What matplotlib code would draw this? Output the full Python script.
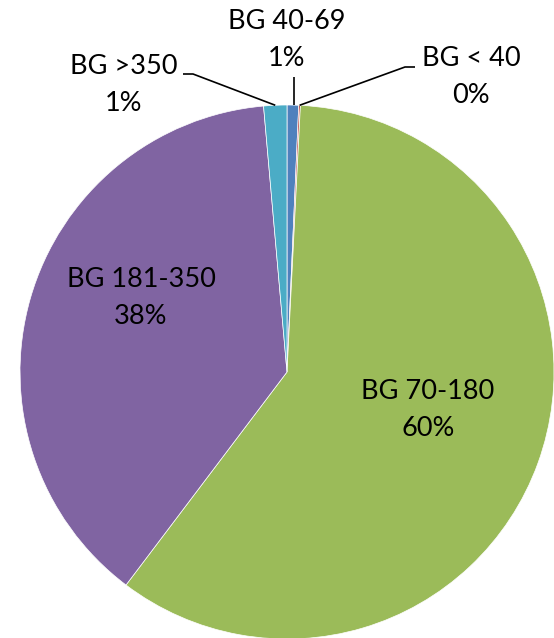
import numpy as np
import matplotlib
matplotlib.use('Agg')
import matplotlib.pyplot as plt

# --- データ ---
labels = ['BG 40-69', 'BG < 40', 'BG 70-180', 'BG 181-350', 'BG >350']
values = [0.7, 0.1, 59.5, 38.3, 1.4]
colors = ['#4F81BD', '#C0504D', '#9BBB59', '#8064A2', '#4BACC6']

plt.rcParams['font.family'] = ['Lato', 'DejaVu Sans']

W, H = 554, 638
fig = plt.figure(figsize=(W / 100, H / 100), dpi=100)
ax = fig.add_axes([0, 0, 1, 1])

cx, cy, r = 287, H - 372, 267
wedges, _ = ax.pie(values, colors=colors, startangle=90, counterclock=False,
                   center=(cx, cy), radius=r, frame=True,
                   wedgeprops=dict(edgecolor='white', linewidth=0.5))
ax.set_xlim(0, W)
ax.set_ylim(0, H)
ax.set_aspect('equal')
ax.axis('off')

def edge_point(w):
    ang = np.deg2rad((w.theta1 + w.theta2) / 2)
    return cx + r * np.cos(ang), cy + r * np.sin(ang)

# --- ラベル位置 (テキスト中心, 引き出し線の折れ点) ---
label_pos = {
    'BG 70-180': (428, H - 410, None),
    'BG 181-350': (141, H - 298, None),
    'BG >350': (124, H - 85, [(183, H - 74), (193, H - 74)]),
    'BG 40-69': (287, H - 40, [(294, H - 77)]),
    'BG < 40': (471, H - 77, [(415, H - 67), (405, H - 67)]),
}

for w, lab, v in zip(wedges, labels, values):
    tx, ty, pts = label_pos[lab]
    ax.text(tx, ty, f'{lab}\n{round(v)}%', ha='center', va='center',
            fontsize=19.5, linespacing=1.62, color='black')
    if pts:
        ex, ey = edge_point(w)
        if lab == 'BG 40-69':
            ex = pts[0][0]
        xs = [p[0] for p in pts] + [ex]
        ys = [p[1] for p in pts] + [ey]
        ax.plot(xs, ys, color='black', lw=1.2, solid_capstyle='butt')

fig.savefig('out.png', dpi=100)
plt.close(fig)
